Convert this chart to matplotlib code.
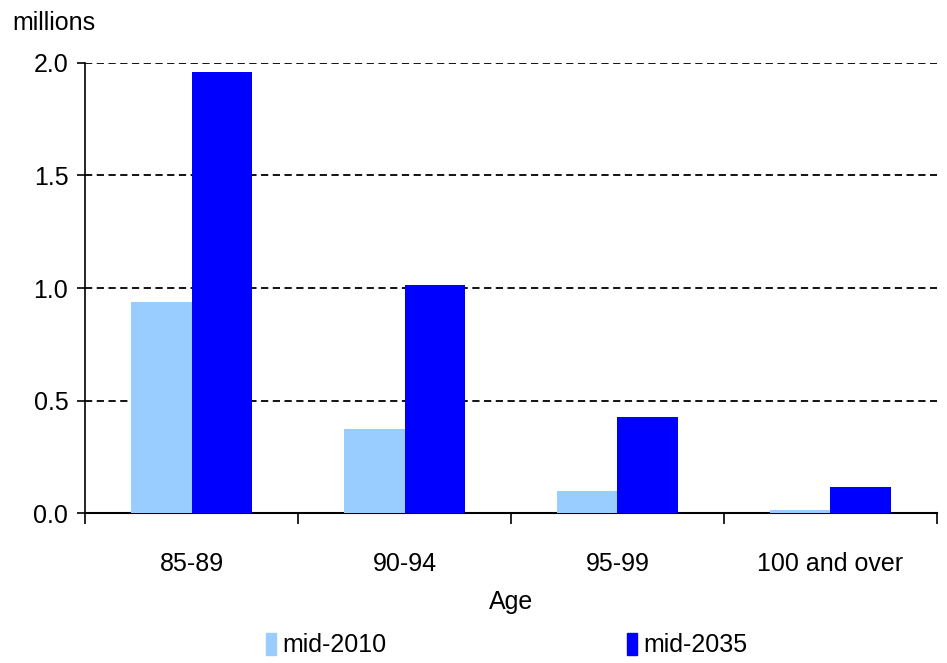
import numpy as np
import matplotlib.pyplot as plt
from matplotlib.patches import Patch

# data
age_groups = ["85-89", "90-94", "95-99", "100 and over"]
mid_2010 = [0.94, 0.375, 0.10, 0.015]
mid_2035 = [1.96, 1.015, 0.425, 0.115]
series_names = ["mid-2010", "mid-2035"]

LIGHT = "#99CCFF"
DARK = "#0000FF"

plt.rcParams["font.family"] = ["Liberation Sans Narrow", "Liberation Sans", "DejaVu Sans"]

fig = plt.figure(figsize=(9.47, 6.63), dpi=100)
ax = fig.add_axes([0.0898, 0.2262, 0.8996, 0.6788])

x = np.arange(len(age_groups))
w = 0.285
ax.bar(x - w / 2, mid_2010, width=w, color=LIGHT, zorder=3)
ax.bar(x + w / 2, mid_2035, width=w, color=DARK, zorder=3)

ax.set_xlim(-0.5, len(age_groups) - 0.5)
ax.set_ylim(0, 2.0)
ax.set_yticks([0.0, 0.5, 1.0, 1.5, 2.0])
ax.set_yticklabels([f"{v:.1f}" for v in [0.0, 0.5, 1.0, 1.5, 2.0]], fontsize=18)
ax.yaxis.grid(True, linestyle=(0, (4, 2.5)), color="black", linewidth=1.3, zorder=0)

# category ticks at boundaries, labels at centres
ax.set_xticks(np.arange(-0.5, len(age_groups), 1.0))
ax.set_xticklabels([])
ax.set_xticks(x, minor=True)
ax.set_xticklabels(age_groups, minor=True, fontsize=18)
ax.tick_params(axis="x", which="minor", length=0, pad=28)
ax.tick_params(axis="x", which="major", length=8, width=1.2, direction="out")
ax.tick_params(axis="y", length=6, width=1.2, direction="out", pad=6)

for s in ["top", "right"]:
    ax.spines[s].set_visible(False)
ax.spines["left"].set_linewidth(1.2)
ax.spines["bottom"].set_linewidth(1.5)

ax.set_xlabel("Age", fontsize=18, labelpad=10)
fig.text(0.013, 0.965, "millions", fontsize=18, ha="left", va="center")

handles = [Patch(color=LIGHT), Patch(color=DARK)]
fig.legend(handles, series_names, loc="center", bbox_to_anchor=(0.535, 0.027),
           ncol=2, frameon=False, fontsize=18, handlelength=0.4, handleheight=1.0,
           handletextpad=0.25, columnspacing=9.6)

fig.savefig("out.png", dpi=100)
